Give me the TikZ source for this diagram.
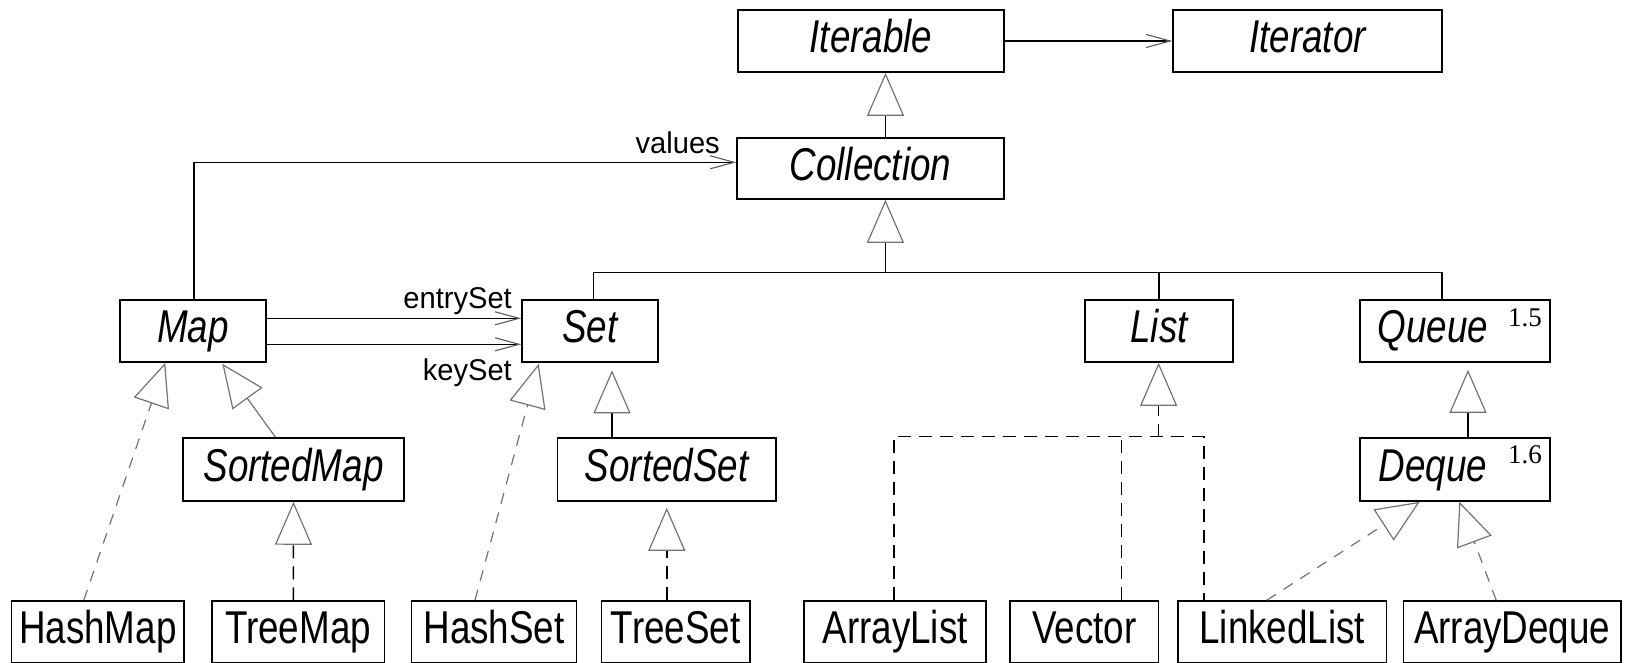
\documentclass[tikz,border=0pt]{standalone}
\usepackage{fontspec}
\newfontfamily\boxfont{Liberation Sans}[FakeStretch=0.8]
\newfontfamily\labfont{Liberation Sans}[FakeStretch=0.97]
\newfontfamily\numfont{Liberation Serif}
\usetikzlibrary{arrows.meta}
\begin{document}
\begin{tikzpicture}[x=1pt,y=-1pt,
  box/.style={draw, line width=1.5pt, inner sep=0pt, minimum height=62pt,
    text height=33pt, text depth=10pt, font=\boxfont\fontsize{46}{50}\selectfont},
  iface/.style={box, font=\boxfont\fontsize{46}{50}\selectfont\itshape},
  lab/.style={inner sep=0pt, font=\labfont\fontsize{30}{34}\selectfont},
  num/.style={inner sep=0pt, font=\numfont\fontsize{27}{29}\selectfont},
  conn/.style={line width=1.5pt},
  assoc/.style={conn, -{Straight Barb[length=24pt,width=13pt,line width=1.1pt,color=black!65]}},
  gen/.style={conn, -{Triangle[open,length=43pt,width=37pt,line width=1.2pt,color=black!55]}},
  gendash/.style={gen, dash pattern=on 13pt off 8pt},
  gdash/.style={gen, draw=black!55, line width=1.2pt, dash pattern=on 11pt off 9pt},
  dl/.style={conn, dash pattern=on 13pt off 8pt}]
\useasboundingbox (0,0) rectangle (1627,662);
\clip (0,0) rectangle (1627,662);

% interfaces
\node[iface, minimum width=266pt] (iterable) at (871,41) {Iterable};
\node[iface, minimum width=269pt] (iterator) at (1307.5,41) {Iterator};
\node[iface, minimum width=267pt, minimum height=61pt] (collection) at (870.5,168.5) {Collection};
\node[iface, minimum width=146pt] (map) at (193,331) {Map};
\node[iface, minimum width=136pt] (set) at (590,331) {Set};
\node[iface, minimum width=148pt] (list) at (1159,331) {List};
\node[iface, minimum width=190pt] (queue) at (1455,331) {Queue\hspace*{44pt}};
\node[iface, minimum width=221pt, minimum height=63pt] (sortedmap) at (293.5,469.5) {SortedMap};
\node[iface, minimum width=218.5pt, minimum height=63pt] (sortedset) at (666.75,469.5) {SortedSet};
\node[iface, minimum width=190pt, minimum height=63pt] (deque) at (1455,469.5) {Deque\hspace*{44pt}};
\node[num, anchor=base west] (v15) at (1508,326.7) {1.5};
\node[num, anchor=base west] (v16) at (1508,463.3) {1.6};

% classes
\node[box, minimum width=172.5pt] (hashmap) at (97.75,632) {HashMap};
\node[box, minimum width=172.5pt] (treemap) at (298,632) {TreeMap};
\node[box, minimum width=165pt] (hashset) at (494,632) {HashSet};
\node[box, minimum width=148.5pt] (treeset) at (675.75,632) {TreeSet};
\node[box, minimum width=182pt] (arraylist) at (895.2,632) {ArrayList};
\node[box, minimum width=148.6pt] (vector) at (1084.3,632) {Vector};
\node[box, minimum width=208.5pt] (linkedlist) at (1282.25,632) {LinkedList};
\node[box, minimum width=217.6pt] (arraydeque) at (1512.2,632) {ArrayDeque};

% associations
\draw[assoc] (iterable.east) -- (iterator.west);
\draw[assoc] ([xshift=1pt]map.north) |- ([yshift=6.2pt]collection.west);
\draw[assoc] ([yshift=12.7pt]map.east) -- ([yshift=12.7pt]set.west);
\draw[assoc] ([yshift=-13.3pt]map.east) -- ([yshift=-13.3pt]set.west);
\node[lab, anchor=base east] (lvalues) at (720,153) {values};
\node[lab, anchor=base east] (lentry) at (512,308) {entrySet};
\node[lab, anchor=base east] (lkey) at (512,380) {keySet};

% Collection hierarchy
\draw[gen] ([xshift=15pt]collection.north) -- ([xshift=14.5pt]iterable.south);
\coordinate (cbus) at (885.4,272.3);
\draw[gen] (cbus) -- (collection.south -| cbus);
\draw[conn] ([xshift=3.5pt]set.north) |- (cbus) -| ([xshift=-13pt]queue.north);
\draw[conn] (list.north) -- (list.north |- cbus);

% Map hierarchy
\draw[gen, draw=black!55, line width=1.2pt] ([xshift=-18pt]sortedmap.north) -- ([xshift=29.3pt,yshift=-1pt]map.south);
\draw[gdash] ([xshift=-14pt]hashmap.north) -- ([xshift=-27.7pt]map.south);
\draw[gendash] ([xshift=-4.6pt]treemap.north) -- (sortedmap.south);

% Set hierarchy
\draw[gen] ([xshift=-54.75pt]sortedset.north) -- ([xshift=22pt,yshift=-7.5pt]set.south);
\draw[gdash] ([xshift=-19pt]hashset.north) -- ([xshift=-51.3pt,yshift=-1pt]set.south);
\draw[gendash] ([xshift=-9pt]treeset.north) -- ([xshift=0pt,yshift=-6pt]sortedset.south);

% List hierarchy
\coordinate (lbus) at (1158.6,436.7);
\draw[gendash] (lbus) -- (list.south -| lbus);
\draw[dl] ([xshift=-1.3pt]arraylist.north) |- (lbus) -| ([xshift=-78.25pt]linkedlist.north);
\draw[dl] ([xshift=37.4pt]vector.north) -- ([xshift=37.4pt]vector.north |- lbus);

% Queue hierarchy
\draw[gen] ([xshift=13pt]deque.north) -- ([xshift=13pt,yshift=-7pt]queue.south);
\draw[gdash] ([xshift=-15.5pt]linkedlist.north) -- ([xshift=-35.3pt]deque.south);
\draw[gdash] ([xshift=-16pt]arraydeque.north) -- ([xshift=4.3pt]deque.south);
\end{tikzpicture}
\end{document}
